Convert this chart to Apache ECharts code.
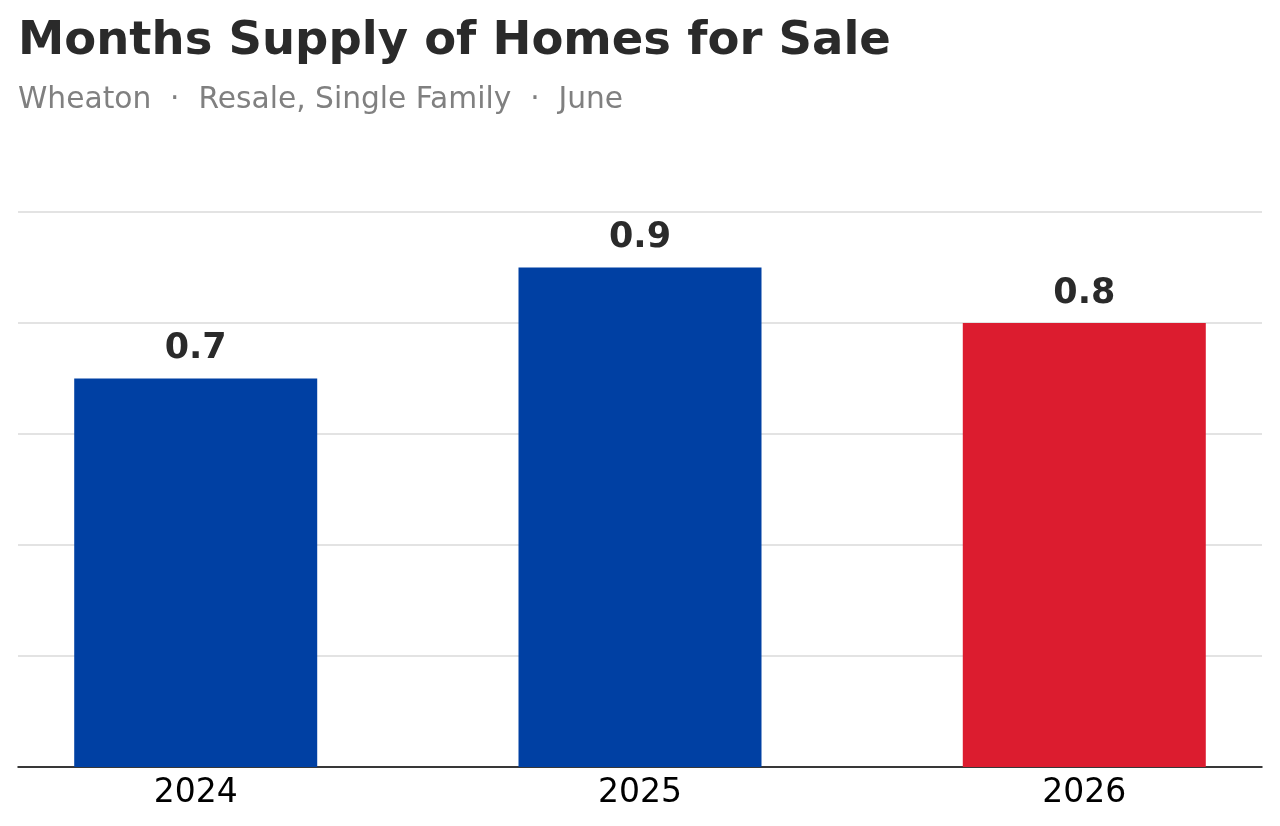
<!DOCTYPE html>
<html>
<head>
<meta charset="utf-8">
<script src="https://cdn.jsdelivr.net/npm/echarts@6/dist/echarts.min.js"></script>
<style>
  html, body { margin: 0; padding: 0; background: #fff; }
  #chart { width: 1280px; height: 826px; }
</style>
</head>
<body>
<div id="chart"></div>
<script>
var years = ['2024', '2025', '2026'];
var supply = [0.7, 0.9, 0.8];
var barColors = ['#0040a3', '#0040a3', '#dc1c2f'];

var chart = echarts.init(document.getElementById('chart'));
var font = 'DejaVu Sans';

var option = {
    animation: false,
    title: [{
        text: 'Months Supply of Homes for Sale',
        left: 18,
        top: 18,
        padding: 0,
        textStyle: { fontFamily: font, fontSize: 46.5, fontWeight: 'bold', color: '#2a2a2a' }
    }, {
        text: 'Wheaton  \u00b7  Resale, Single Family  \u00b7  June',
        left: 18,
        top: 85,
        padding: 0,
        textStyle: { fontFamily: font, fontSize: 29.7, fontWeight: 'normal', color: '#808080' }
    }],
    grid: { left: 18, right: 18, top: 212, bottom: 59 },
    xAxis: {
        type: 'value',
        min: -0.4,
        max: 2.4,
        splitLine: { show: false },
        axisLine: { lineStyle: { color: '#000', width: 1.5 } },
        axisTick: { show: false },
        axisLabel: {
            customValues: [0, 1, 2],
            formatter: function (v) { return years[Math.round(v)]; },
            fontFamily: font, fontSize: 33, color: '#000', margin: 10
        }
    },
    yAxis: {
        type: 'value',
        min: 0,
        max: 1.0,
        interval: 0.2,
        axisLabel: { show: false },
        axisLine: { show: false },
        axisTick: { show: false },
        splitLine: { lineStyle: { color: '#e3e3e3', width: 2 } }
    },
    series: [{
        type: 'bar',
        barWidth: 243,
        data: supply.map(function (v, i) {
            return { value: [i, v], itemStyle: { color: barColors[i] } };
        }),
        label: {
            show: true,
            position: 'top',
            distance: 12,
            fontFamily: font,
            fontSize: 35,
            fontWeight: 'bold',
            color: '#2a2a2a',
            formatter: function (p) { return p.value[1].toFixed(1); }
        }
    }]
};
chart.setOption(option);
</script>
</body>
</html>
